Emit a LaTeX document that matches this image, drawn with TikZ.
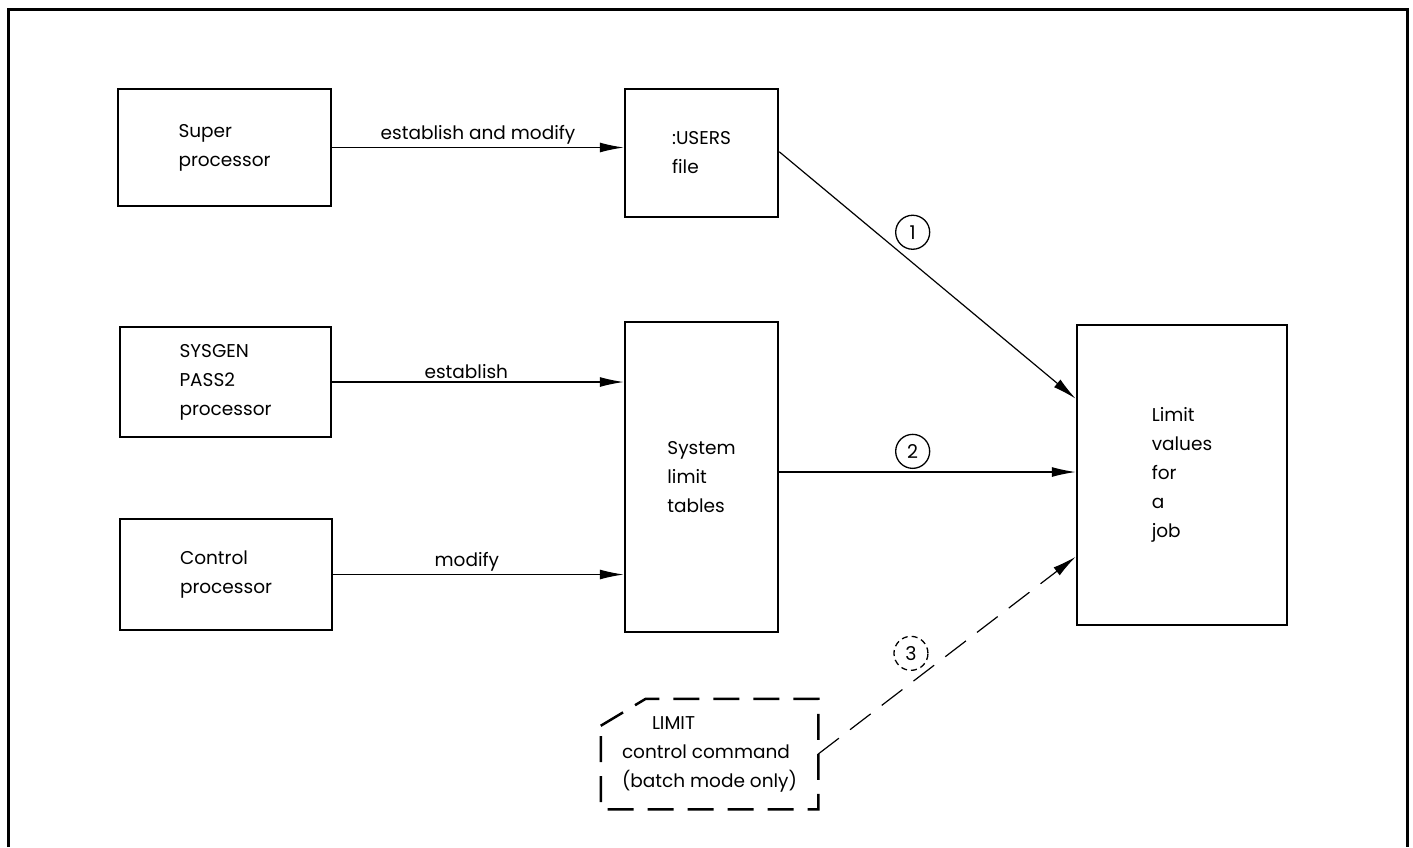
\documentclass[tikz,border=0pt]{standalone}
\usepackage{fontspec}
\setmainfont{Poppins}
\usetikzlibrary{arrows.meta}
\tikzstyle{procbox} = [rectangle, draw=black, line width=2.5pt, align=left, inner sep=0pt, font=\fontsize{18.5}{29}\selectfont]
\tikzstyle{arrow} = [line width=1.2pt, -{Latex[length=24pt,width=10pt]}]
\tikzstyle{dasharrow} = [arrow, dash pattern=on 26pt off 14pt]
\tikzstyle{numcirc} = [circle, draw=black, line width=1.3pt, minimum size=34pt, inner sep=0pt, font=\fontsize{19}{19}\selectfont]
\tikzstyle{edgetext} = [font=\fontsize{18.5}{18.5}\selectfont, inner sep=3pt]

\begin{document}
\begin{tikzpicture}[x=1pt, y=-1pt]
    \useasboundingbox (0,0) rectangle (1413,847);
    % frame, open at the bottom
    \draw[line width=3pt] (8,847) -- (8,9) -- (1407,9) -- (1407,847);

    % Processors on the left
    \node[procbox, minimum width=213pt, minimum height=117pt] (super) at (224.5,147.5) {Super\\processor};
    \node[procbox, minimum width=211pt, minimum height=110pt] (sysgen) at (225.5,382) {SYSGEN\\PASS2\\processor};
    \node[procbox, minimum width=212pt, minimum height=111pt] (control) at (226,574.5) {Control\\processor};

    % Files and tables
    \node[procbox, minimum width=153pt, minimum height=128pt] (users) at (701.5,153) {:USERS\\file};
    \node[procbox, minimum width=153pt, minimum height=310pt] (tables) at (701.5,477) {System\\limit\\tables};

    % Result
    \node[procbox, minimum width=210pt, minimum height=300pt] (limits) at (1182,475) {Limit\\values\\for\\a\\job};

    % Control card (cut corner drawn separately)
    \node[procbox, draw=none, minimum width=215pt, minimum height=108pt] (card) at (709.5,754) {\hspace*{30pt}LIMIT\\control command\\(batch mode only)};
    \draw[line width=2.5pt, dash pattern=on 26pt off 14pt] ([yshift=-27pt]card.north west) -- ([xshift=45pt]card.north west) -- (card.north east) -- (card.south east) -- (card.south west) -- cycle;

    % Connections
    \draw[arrow] (super.east) -- node[edgetext, above] {establish and modify} (super.east -| users.west);
    \draw[arrow] (sysgen.east) -- node[edgetext, above, pos=0.46] {establish} (sysgen.east -| tables.west);
    \draw[arrow] (control.east) -- node[edgetext, above, pos=0.46] {modify} (control.east -| tables.west);
    \draw[arrow] ([yshift=-64pt]users.north east) -- node[numcirc, pos=0.45, above=13pt] {1} ([yshift=-75pt]limits.north west);
    \draw[arrow] ([yshift=5pt]tables.east) -- node[numcirc, pos=0.45, above=3pt] {2} ([yshift=5pt]tables.east -| limits.west);
    \draw[dasharrow] (card.east) -- node[numcirc, dash pattern=on 6pt off 4pt, pos=0.36, above=12pt] {3} ([yshift=-233pt]limits.north west);
\end{tikzpicture}
\end{document}
